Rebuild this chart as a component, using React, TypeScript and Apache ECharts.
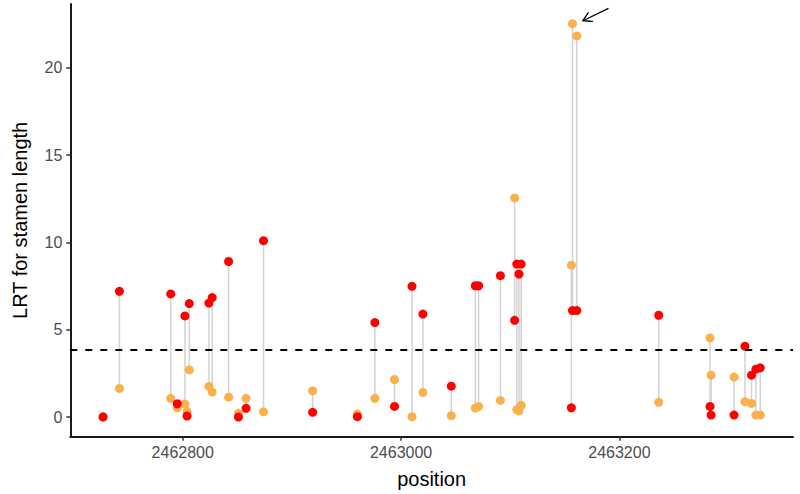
import React, { useEffect, useRef } from "react";
import * as echarts from "echarts";

// Positions of each site along the chromosome
const positions = [
  2462727, 2462742, 2462789, 2462795, 2462802, 2462804, 2462806, 2462824, 2462827, 2462842,
  2462851, 2462858, 2462874, 2462919, 2462960, 2462976, 2462994, 2463010, 2463020, 2463046,
  2463068, 2463071, 2463091, 2463104, 2463106, 2463108, 2463110, 2463156, 2463157, 2463161,
  2463236, 2463283, 2463284, 2463305, 2463315, 2463321, 2463325, 2463329,
];
// LRT values (red points)
const redValues = [
  0.0, 7.2, 7.05, 0.76, 5.79, 0.06, 6.5, 6.53, 6.84, 8.91,
  0.0, 0.5, 10.1, 0.27, 0.02, 5.41, 0.61, 7.49, 5.9, 1.77,
  7.52, 7.52, 8.1, 5.54, 8.76, 8.19, 8.76, 0.53, 6.1, 6.1,
  5.83, 0.61, 0.11, 0.11, 4.06, 2.4, 2.74, 2.82,
];
// LRT values (orange points)
const orangeValues = [
  0.03, 1.64, 1.07, 0.53, 0.74, 0.32, 2.7, 1.75, 1.43, 1.14,
  0.21, 1.07, 0.3, 1.5, 0.17, 1.07, 2.15, 0.02, 1.41, 0.08,
  0.51, 0.61, 0.95, 12.55, 0.42, 0.36, 0.67, 8.7, 22.53, 21.83,
  0.84, 4.53, 2.4, 2.29, 0.88, 0.78, 0.11, 0.11,
];
const threshold = 3.83;
const xTicks = [2462800, 2463000, 2463200];
const yTicks = [0, 5, 10, 15, 20];
// Annotation arrow: [fromX, fromY], [toX, toY]
const arrowFrom = [2463190, 23.41];
const arrowTo = [2463166.5, 22.7];

const FONT = '"Liberation Sans", Arial, Helvetica, sans-serif';

export default function App() {
  const ref = useRef<HTMLDivElement>(null);
  useEffect(() => {
    if (!ref.current) return;
    const chart = echarts.init(ref.current, undefined, { renderer: "svg" });
    const segData = positions.map((p, i) => [p, redValues[i], orangeValues[i]]);
    const redData = positions.map((p, i) => [p, redValues[i]]);
    const orangeData = positions.map((p, i) => [p, orangeValues[i]]);
    chart.setOption({
      animation: false,
      backgroundColor: "#ffffff",
      grid: { left: 70.3, right: 7, top: 4, bottom: 57.3, containLabel: false },
      xAxis: {
        type: "value",
        min: 2462697,
        max: 2463359,
        name: "position",
        nameLocation: "middle",
        nameGap: 32,
        nameTextStyle: { color: "#000", fontSize: 20, fontFamily: FONT },
        axisLine: { show: true, onZero: false, lineStyle: { color: "#1a1a1a", width: 2 } },
        axisTick: { show: true, length: 4, customValues: xTicks, lineStyle: { color: "#333", width: 1.5 } },
        axisLabel: {
          customValues: xTicks,
          color: "#4d4d4d",
          fontSize: 16,
          fontFamily: FONT,
          margin: 8,
          formatter: (v: number) => String(v),
        },
        splitLine: { show: false },
      },
      yAxis: {
        type: "value",
        min: -1.127,
        max: 23.66,
        name: "LRT for stamen length",
        nameLocation: "middle",
        nameGap: 40,
        nameTextStyle: { color: "#000", fontSize: 20, fontFamily: FONT },
        axisLine: { show: true, onZero: false, lineStyle: { color: "#1a1a1a", width: 2 } },
        axisTick: { show: true, length: 4, customValues: yTicks, lineStyle: { color: "#333", width: 1.5 } },
        axisLabel: {
          customValues: yTicks,
          color: "#4d4d4d",
          fontSize: 16,
          fontFamily: FONT,
          margin: 8,
        },
        splitLine: { show: false },
      },
      series: [
        {
          type: "custom",
          name: "segments",
          data: segData,
          encode: { x: 0, y: [1, 2] },
          z: 1,
          renderItem: (params: any, api: any) => {
            const p1 = api.coord([api.value(0), api.value(1)]);
            const p2 = api.coord([api.value(0), api.value(2)]);
            return {
              type: "line",
              shape: { x1: p1[0], y1: p1[1], x2: p2[0], y2: p2[1] },
              style: { stroke: "#d3d3d3", lineWidth: 1.5 },
            };
          },
        },
        {
          type: "scatter",
          name: "orange",
          data: orangeData,
          symbol: "circle",
          symbolSize: 9,
          itemStyle: { color: "#fbb04b", opacity: 1 },
          z: 2,
          markLine: {
            silent: true,
            symbol: ["none", "none"],
            label: { show: false },
            lineStyle: { color: "#000", width: 2, type: [7, 8] },
            data: [{ yAxis: threshold }],
            z: 5,
          },
        },
        {
          type: "scatter",
          name: "red",
          data: redData,
          symbol: "circle",
          symbolSize: 9,
          itemStyle: { color: "#ff0000", opacity: 1 },
          z: 3,
        },
        {
          type: "custom",
          name: "arrow",
          data: [[arrowFrom[0], arrowFrom[1], arrowTo[0], arrowTo[1]]],
          encode: { x: [0, 2], y: [1, 3] },
          z: 6,
          renderItem: (params: any, api: any) => {
            const a = api.coord([api.value(0), api.value(1)]);
            const b = api.coord([api.value(2), api.value(3)]);
            const ang = Math.atan2(a[1] - b[1], a[0] - b[0]);
            const hl = 10;
            const spread = Math.PI / 6;
            const h1 = [b[0] + hl * Math.cos(ang + spread), b[1] + hl * Math.sin(ang + spread)];
            const h2 = [b[0] + hl * Math.cos(ang - spread), b[1] + hl * Math.sin(ang - spread)];
            const st = { stroke: "#000", lineWidth: 1.3, fill: "none" };
            return {
              type: "group",
              children: [
                { type: "line", shape: { x1: a[0], y1: a[1], x2: b[0], y2: b[1] }, style: st },
                { type: "polyline", shape: { points: [h1, b, h2] }, style: st },
              ],
            };
          },
        },
      ],
    });
    return () => chart.dispose();
  }, []);
  return (
    <div
      ref={ref}
      style={{ position: "fixed", left: 0, top: 0, width: 800, height: 494 }}
    />
  );
}
